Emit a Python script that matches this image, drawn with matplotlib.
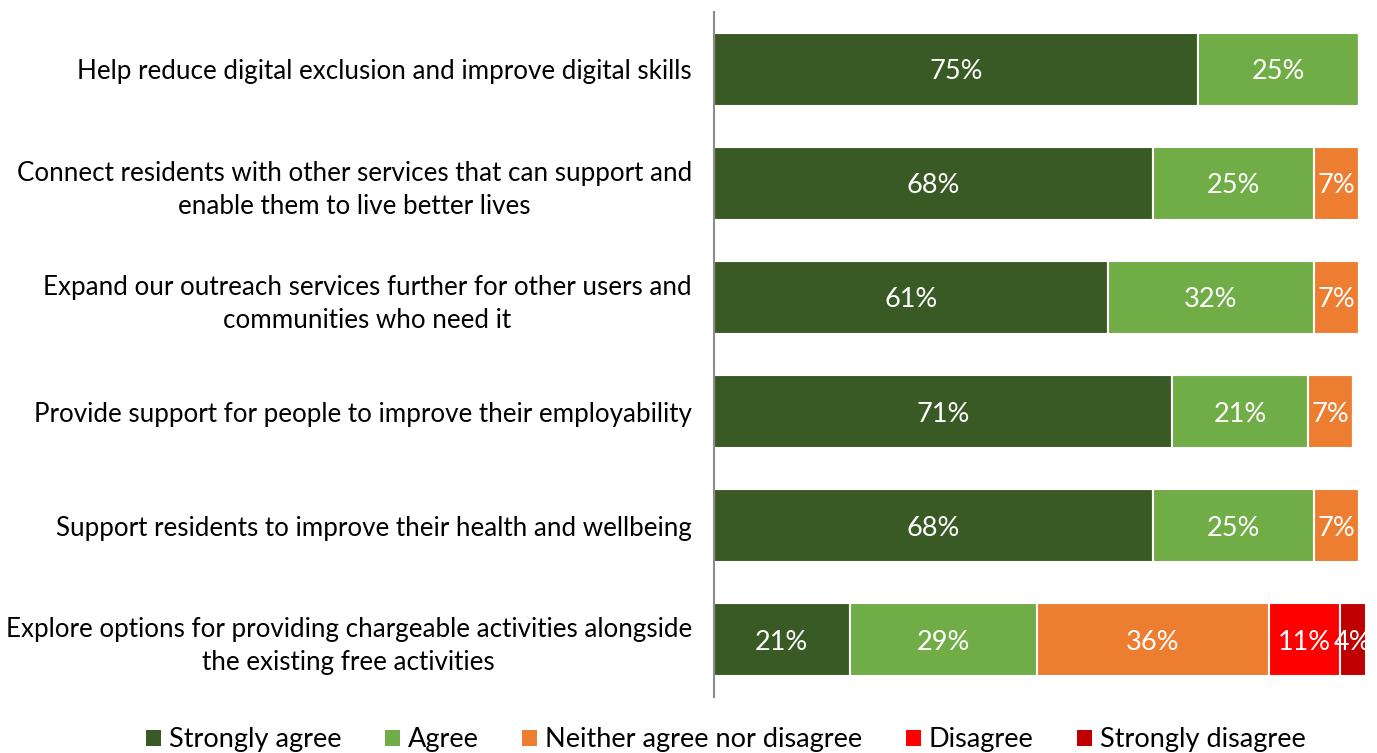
import matplotlib
matplotlib.use("Agg")
import matplotlib.pyplot as plt
from matplotlib.patches import Patch

plt.rcParams['font.family'] = ['Lato', 'DejaVu Sans']

categories = [
    "Help reduce digital exclusion and improve digital skills",
    "Connect residents with other services that can support and\nenable them to live better lives",
    "Expand our outreach services further for other users and\ncommunities who need it",
    "Provide support for people to improve their employability",
    "Support residents to improve their health and wellbeing",
    "Explore options for providing chargeable activities alongside\nthe existing free activities",
]
series_names = ["Strongly agree", "Agree", "Neither agree nor disagree",
                "Disagree", "Strongly disagree"]
strongly_agree = [75, 68, 61, 71, 68, 21]
agree = [25, 25, 32, 21, 25, 29]
neither = [0, 7, 7, 7, 7, 36]
disagree = [0, 0, 0, 0, 0, 11]
strongly_disagree = [0, 0, 0, 0, 0, 4]
colors = ["#3A5A25", "#70AD47", "#ED7D31", "#FF0000", "#C00000"]

series = [strongly_agree, agree, neither, disagree, strongly_disagree]

fig = plt.figure(figsize=(13.77, 7.53), dpi=100)
ax = fig.add_axes([714 / 1377, 1 - 697 / 753, (102 * 6.453) / 1377, (697 - 12) / 753])

ypos = list(range(len(categories)))
left = [0] * len(categories)
for name, vals, col in zip(series_names, series, colors):
    ax.barh(ypos, vals, left=left, height=0.64, color=col,
            edgecolor="white", linewidth=1.5, label=name, clip_on=False)
    for y, v, l in zip(ypos, vals, left):
        if v > 0:
            ax.text(l + v / 2, y, f"{v}%", ha="center", va="center_baseline",
                    color="white", fontsize=19.5)
    left = [a + b for a, b in zip(left, vals)]

ax.set_xlim(0, 102)
ax.set_ylim(len(categories) - 0.5, -0.5)
ax.set_yticks(ypos)
ax.set_yticklabels(categories, fontsize=18.7, ha="right", multialignment="center",
                   linespacing=1.4)
ax.tick_params(axis="y", length=0, pad=16)
ax.set_xticks([])
for s in ["top", "right", "bottom"]:
    ax.spines[s].set_visible(False)
ax.spines["left"].set_color("#8C8C8C")
ax.spines["left"].set_linewidth(1.5)

handles = [Patch(facecolor=c, edgecolor="none") for c in colors]
fig.legend(handles, series_names, loc="center", bbox_to_anchor=(726 / 1377, 1 - 740 / 753),
           ncol=5, frameon=False, fontsize=19.5, handlelength=0.55, handleheight=0.55,
           handletextpad=0.3, columnspacing=1.6)

fig.savefig("out.png", dpi=100)
